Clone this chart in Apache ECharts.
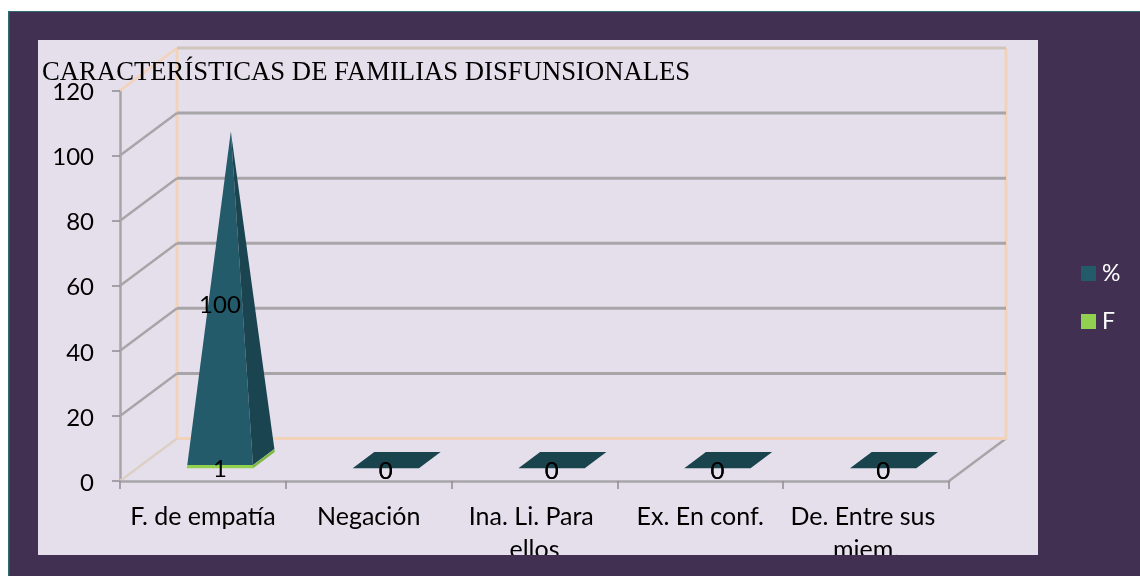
<!DOCTYPE html>
<html><head><meta charset="utf-8">
<style>html,body{margin:0;padding:0;background:#fff}#c{width:1140px;height:576px}</style>
<script src="https://cdn.jsdelivr.net/npm/echarts@6/dist/echarts.min.js"></script>
</head><body><div id="c"></div>
<script>
const titleText = 'CARACTERÍSTICAS DE FAMILIAS DISFUNSIONALES';
const categories = ['F. de empatía', 'Negación', 'Ina. Li. Para ellos', 'Ex. En conf.', 'De. Entre sus miem.'];
const seriesF = [1, 0, 0, 0, 0];
const seriesPct = [100, 0, 0, 0, 0];
const yTicks = [0, 20, 40, 60, 80, 100, 120];

const DX = 57, DY = -42.5, DC = 0.49, DD = 0.19, HALF = 0.2;
const GREY = '#a8a5a9', PEACH = '#f2d3ba';
const FONT = 'Lato';

function line(pts, color, w) {
  return {type: 'polyline', shape: {points: pts}, style: {stroke: color, lineWidth: w, fill: null}};
}
function renderWalls(params, api) {
  const t = api.value(0), g = params.coordSys;
  const y = api.coord([0, t])[1];
  const xl = g.x, xr = g.x + g.width, by = y + DY;
  const topY = api.coord([0, yTicks[yTicks.length - 1]])[1] + DY;
  const kids = [];
  if (t === 0) {
    kids.push(line([[xl, y], [xl + DX, by]], '#dccfc4', 2.5));
    kids.push(line([[xr, y], [xr + DX, by]], GREY, 2.5));
    kids.push(line([[xl + DX, by], [xr + DX, by]], PEACH, 3));
    kids.push(line([[xl + DX, by], [xl + DX, topY]], PEACH, 3));
    kids.push(line([[xr + DX, by], [xr + DX, topY]], PEACH, 3));
  } else if (t === 120) {
    kids.push(line([[xl, y], [xl + DX, by]], PEACH, 2.5));
    kids.push(line([[xl + DX, by], [xr + DX, by]], '#cfc5bd', 3));
  } else {
    kids.push(line([[xl, y], [xl + DX, by]], GREY, 2.5));
    kids.push(line([[xl + DX, by], [xr + DX, by]], GREY, 3));
  }
  return {type: 'group', children: kids};
}
function makeRender(front, side, cap) {
  return function (params, api) {
    const i = api.value(0), lo = api.value(1), hi = api.value(2), total = api.value(3);
    const band = api.size([1, 0])[0], w = band * HALF;
    const P = (v, sx, sz) => {
      const c = api.coord([i, v]);
      const s = total > 0 ? 1 - v / total : 1;
      const d = DC + sz * DD * s;
      return [c[0] + DX * d + sx * w * s, c[1] + DY * d];
    };
    const kids = [];
    const poly = (pts, col) => kids.push({type: 'polygon', shape: {points: pts}, style: {fill: col}});
    if (total > 0) {
      poly([P(lo, -1, -1), P(lo, 1, -1), P(hi, 1, -1), P(hi, -1, -1)], front);
      poly([P(lo, 1, -1), P(lo, 1, 1), P(hi, 1, 1), P(hi, 1, -1)], side);
    } else if (cap) {
      poly([P(0, -1, -1), P(0, 1, -1), P(0, 1, 1), P(0, -1, 1)], cap);
    }
    const c = api.coord([i, (lo + hi) / 2]);
    kids.push({
      type: 'text', z2: 50,
      style: {
        text: String(api.value(4)), x: c[0] + DX * 0.3, y: c[1] + DY * 0.3 + 3,
        align: 'center', verticalAlign: 'middle',
        fill: '#000', font: '24px ' + FONT
      }
    });
    return {type: 'group', children: kids};
  };
}
const dataF = categories.map((_, i) => [i, 0, seriesF[i], seriesF[i] + seriesPct[i], seriesF[i]]);
const dataPct = categories.map((_, i) => [i, seriesF[i], seriesF[i] + seriesPct[i], seriesF[i] + seriesPct[i], seriesPct[i]]);

const chart = echarts.init(document.getElementById('c'), null, {renderer: 'canvas'});
chart.setOption({
  animation: false,
  backgroundColor: '#ffffff',
  title: {
    text: titleText, left: 37, top: 54,
    textStyle: {fontFamily: 'Liberation Serif', fontWeight: 'normal', fontSize: 26.7, color: '#000'},
    z: 20
  },
  legend: {
    data: ['%', 'F'], orient: 'vertical', left: 1081, top: 262,
    itemWidth: 15, itemHeight: 15, itemGap: 25,
    textStyle: {color: '#ffffff', fontFamily: FONT, fontSize: 23, padding: [0, 0, 0, 1]},
    icon: 'rect', padding: 0
  },
  grid: {left: 120, top: 90.5, width: 829, height: 390.5},
  xAxis: {
    type: 'category', data: categories,
    axisLine: {lineStyle: {color: GREY, width: 2.5}},
    axisTick: {show: true, length: 8, lineStyle: {color: '#8f8c92', width: 1.5}},
    axisLabel: {
      interval: 0, margin: 19, width: 175, overflow: 'break', lineHeight: 33,
      color: '#000', fontFamily: FONT, fontSize: 25
    },
    z: 3
  },
  yAxis: {
    type: 'value', min: 0, max: 120, interval: 20,
    axisLine: {show: true, lineStyle: {color: GREY, width: 2.5}},
    axisTick: {show: true, length: 8, lineStyle: {color: '#8f8c92', width: 1.5}},
    axisLabel: {margin: 26, color: '#000', fontFamily: FONT, fontSize: 24, verticalAlign: 'top', lineHeight: 4},
    splitLine: {show: false}
  },
  graphic: {elements: [
    {type: 'rect', z: -10, shape: {x: 8, y: 11, width: 1132, height: 565}, style: {fill: '#413051'}},
    {type: 'rect', z: -9, shape: {x: 8, y: 11, width: 1132, height: 1}, style: {fill: '#2f6b73'}},
    {type: 'rect', z: -9, shape: {x: 8, y: 11, width: 1.5, height: 565}, style: {fill: '#2f6b73'}},
    {type: 'rect', z: -8, shape: {x: 38, y: 40, width: 1000, height: 515}, style: {fill: '#e5dfec'}},
    {type: 'rect', z: 100, shape: {x: 10, y: 555, width: 1130, height: 21}, style: {fill: '#413051'}}
  ]},
  series: [
    {type: 'custom', name: 'walls', renderItem: renderWalls, data: yTicks.map(t => [t]), encode: {y: 0}, z: 1, silent: true},
    {type: 'custom', name: '%', renderItem: makeRender('#235b6b', '#1a4450', '#1a444d'), data: dataPct,
      itemStyle: {color: '#235b6b'}, encode: {x: 0, y: [1, 2]}, z: 5},
    {type: 'custom', name: 'F', renderItem: makeRender('#92d050', '#7fb845', null), data: dataF,
      itemStyle: {color: '#92d050'}, encode: {x: 0, y: [1, 2]}, z: 6}
  ]
});
</script></body></html>
